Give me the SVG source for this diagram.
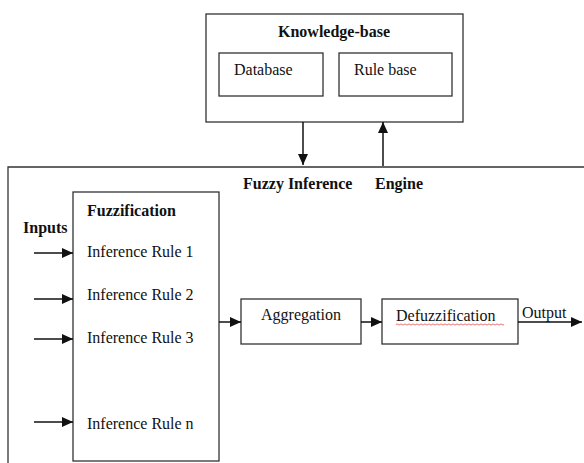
<svg xmlns="http://www.w3.org/2000/svg" width="584" height="463" viewBox="0 0 584 463">
<style>
.box{fill:#fff;stroke:#333;stroke-width:1.3}
.ln{fill:none;stroke:#111;stroke-width:1.5}
text{font-family:"Liberation Serif","Times New Roman",serif;font-size:16px;fill:#111}
.b{font-weight:bold}
</style>
<defs>
<marker id="ah" viewBox="0 0 11 10" refX="11" refY="5" markerWidth="11" markerHeight="10" markerUnits="userSpaceOnUse" orient="auto">
<path d="M0,0 L11,5 L0,10 Z" fill="#111"/>
</marker>
</defs>
<rect width="584" height="463" fill="#fff"/>
<g id="engine">
<path d="M8,463 V167 H584" fill="none" stroke="#333" stroke-width="1.3"/>
<text class="b" x="243" y="189">Fuzzy Inference</text>
<text class="b" x="375" y="189">Engine</text>
</g>
<g id="knowledge-base">
<rect class="box" x="206" y="14" width="257" height="108"/>
<text class="b" x="334" y="37" text-anchor="middle">Knowledge-base</text>
</g>
<g id="database">
<rect class="box" x="219" y="53" width="104" height="43"/>
<text x="234" y="75">Database</text>
</g>
<g id="rulebase">
<rect class="box" x="339" y="53" width="113" height="43"/>
<text x="354" y="75">Rule base</text>
</g>
<g id="fuzzification">
<rect class="box" x="73" y="192" width="146" height="269"/>
<text class="b" x="87" y="216">Fuzzification</text>
<text x="87" y="257">Inference Rule 1</text>
<text x="87" y="300">Inference Rule 2</text>
<text x="87" y="343">Inference Rule 3</text>
<text x="87" y="429">Inference Rule n</text>
</g>
<g id="inputs-label">
<text class="b" x="23" y="233">Inputs</text>
</g>
<g id="aggregation">
<rect class="box" x="241" y="299" width="120" height="45"/>
<text x="301" y="320" text-anchor="middle">Aggregation</text>
</g>
<g id="defuzzification">
<rect class="box" x="382" y="299" width="136" height="45"/>
<text x="396" y="321">Defuzzification</text>
<path d="M396,324.5 q1,-1.2 2,0 t2,0 t2,0 t2,0 t2,0 t2,0 t2,0 t2,0 t2,0 t2,0 t2,0 t2,0 t2,0 t2,0 t2,0 t2,0 t2,0 t2,0 t2,0 t2,0 t2,0 t2,0 t2,0 t2,0 t2,0 t2,0 t2,0 t2,0 t2,0 t2,0 t2,0 t2,0 t2,0 t2,0 t2,0 t2,0 t2,0 t2,0 t2,0 t2,0 t2,0 t2,0 t2,0 t2,0 t2,0 t2,0 t2,0 t2,0 t2,0 t2,0 t2,0 t2,0 t2,0 t2,0" fill="none" stroke="#e05050" stroke-width="0.8"/>
</g>
<g id="output-label">
<text x="522" y="318">Output</text>
</g>
<g id="connectors">
<line class="ln" x1="303" y1="122" x2="303" y2="165" marker-end="url(#ah)"/>
<line class="ln" x1="383" y1="166" x2="383" y2="122" marker-end="url(#ah)"/>
<line class="ln" x1="34" y1="253" x2="73" y2="253" marker-end="url(#ah)"/>
<line class="ln" x1="34" y1="299" x2="73" y2="299" marker-end="url(#ah)"/>
<line class="ln" x1="34" y1="339" x2="73" y2="339" marker-end="url(#ah)"/>
<line class="ln" x1="34" y1="422" x2="73" y2="422" marker-end="url(#ah)"/>
<line class="ln" x1="219" y1="322" x2="241" y2="322" marker-end="url(#ah)"/>
<line class="ln" x1="361" y1="322" x2="382" y2="322" marker-end="url(#ah)"/>
<line class="ln" x1="518" y1="322" x2="582" y2="322" marker-end="url(#ah)"/>
</g>
</svg>
